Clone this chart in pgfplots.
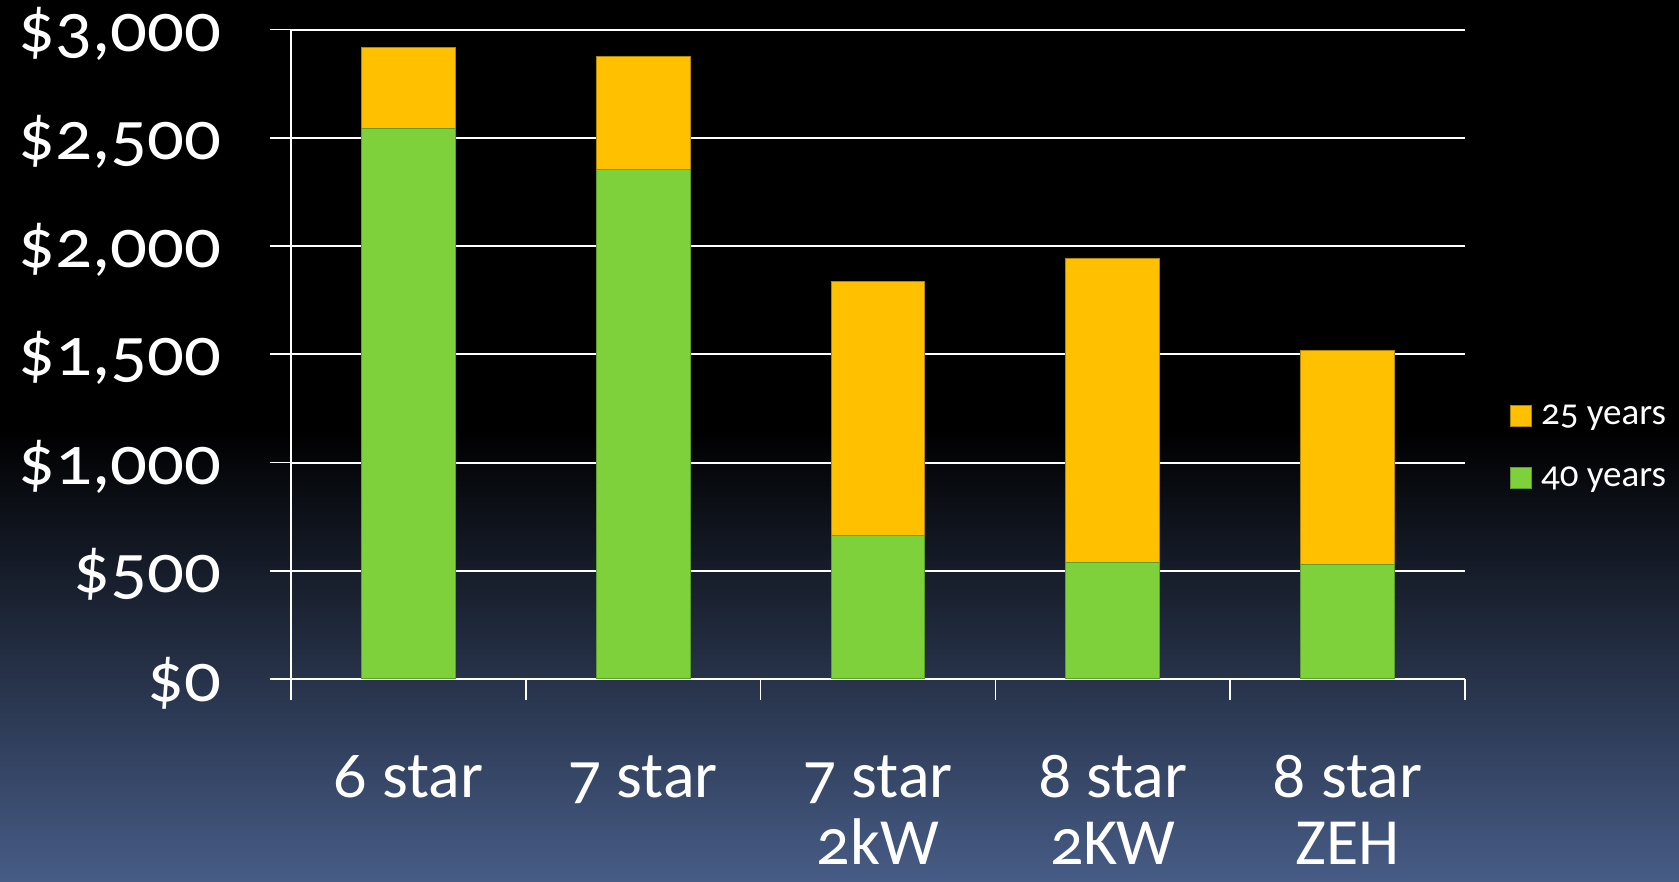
\documentclass[border=0pt]{standalone}
\usepackage{pgfplots}
\pgfplotsset{compat=1.18}
\usepackage{fontspec}
\setmainfont{Carlito}[Numbers=OldStyle]
\definecolor{bgblue}{RGB}{71,92,134}
\definecolor{cgreen}{HTML}{7FD13B}
\definecolor{cyellow}{HTML}{FFC000}
\begin{document}
\begin{tikzpicture}
\useasboundingbox (0,0) rectangle (839.5pt,441pt);
\fill[black] (0,0) rectangle (839.5pt,441pt);
\shade[top color=black, bottom color=bgblue] (0,0) rectangle (839.5pt,226pt);
\begin{axis}[
  at={(145.5pt,101.5pt)}, anchor=south west,
  scale only axis, width=587pt, height=324.7pt,
  ybar stacked, bar width=46.85pt,
  xmin=-0.5, xmax=4.5, ymin=0, ymax=3000,
  axis x line*=bottom, axis y line*=left,
  axis line style={white, line width=1pt, -},
  tick align=outside, major tick length=10.5pt,
  tick style={white, line width=0.8pt},
  xtick={-0.5,0.5,1.5,2.5,3.5,4.5}, xticklabels={},
  extra x ticks={0,1,2,3,4},
  extra x tick labels={6 star,7 star,{7 star\\2kW},{8 star\\2KW},{8 star\\ZEH}},
  extra x tick style={major tick length=0pt,
    xticklabel style={align=center, anchor=north, inner sep=0pt, yshift=-38pt,
      font=\fontsize{33}{33.5}\selectfont, text=white}},
  ytick={0,500,1000,1500,2000,2500,3000},
  yticklabels={{\$0},{\$500},{\$1,000},{\$1,500},{\$2,000},{\$2,500},{\$3,000}},
  yticklabel style={anchor=east, font=\fontsize{35}{38}\selectfont, text=white,
    xscale=1.04, xshift=-20pt, yshift=-2pt},
  ymajorgrids, grid style={white, line width=1pt},
  legend style={draw=none, fill=none, at={(1.038,0.3565)}, anchor=west,
    inner sep=0pt, row sep=11.5pt, column sep=3.5pt,
    font=\fontsize{18.5}{21}\selectfont, text=white,
    nodes={text height=13pt, text depth=4.5pt, inner sep=1pt}},
  legend cell align=left,
  reverse legend,
  legend image code/.code={\fill[#1] (0pt,-5.25pt) rectangle (10.5pt,5.25pt);},
]
\addplot[fill=cgreen, draw=cgreen!75!black, line width=0.5pt]
  coordinates {(0,2545) (1,2355) (2,661) (3,536) (4,527)};
\addplot[fill=cyellow, draw=cyellow!70!black, line width=0.5pt]
  coordinates {(0,372) (1,521) (2,1177) (3,1405) (4,992)};
\legend{40 years, 25 years}
\end{axis}
\end{tikzpicture}
\end{document}
